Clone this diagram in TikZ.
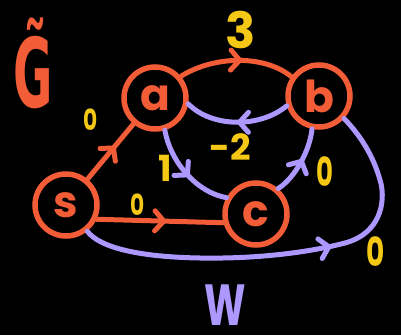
\documentclass[tikz,border=0pt]{standalone}
\usepackage{fontspec}
\usepackage{graphicx}
\setmainfont{Poppins}
\newfontfamily\gfont{DejaVu Sans}
\usetikzlibrary{arrows.meta,decorations.markings}
\definecolor{org}{HTML}{F25C36}
\definecolor{pur}{HTML}{AC98FF}
\definecolor{yel}{HTML}{F5C816}
\begin{document}
\begin{tikzpicture}[x=1pt,y=-1pt,
  vtx/.style={circle,draw=org,line width=5.5pt,minimum size=62pt,inner sep=0pt,text=org,font=\fontsize{44}{44}\selectfont\bfseries},
  oedge/.style={color=org,line width=5pt,line cap=round},
  pedge/.style={color=pur,line width=5pt,line cap=round},
  midarrow/.style={postaction={decorate},decoration={markings,mark=at position #1 with {\arrow{Straight Barb[length=9pt,width=20pt,round]}}}},
  wlabel/.style={text=yel,font=\fontsize{#1}{#1}\selectfont\bfseries,inner sep=0pt},
  biglabel/.style={inner sep=0pt,font=\fontsize{#1}{#1}\selectfont\bfseries},
]
\fill[black] (0,0) rectangle (401,335);
\useasboundingbox (0,0) rectangle (401,335);

\node[vtx] (s) at (66,205) {s};
\node[vtx] (a) at (155,98) {a};
\node[vtx] (b) at (319,96) {b};
\node[vtx] (c) at (256,214) {c};

\draw[oedge,midarrow=0.6] (s) -- (a);
\draw[oedge,midarrow=0.55] (a.40) .. controls (215,55) and (265,55) .. (b.145);
\draw[pedge,midarrow=0.5] (b.197) .. controls (260,128) and (212,128) .. (a.-10);
\draw[pedge,midarrow=0.55] (a.-73) .. controls (170,160) and (195,192) .. (c.151);
\draw[pedge,midarrow=0.55] (c.49) .. controls (295,178) and (310,150) .. (b.-102);
\draw[oedge,midarrow=0.55] (s.-25) -- (c.195);
\draw[pedge,midarrow=0.6] (s.-51) .. controls (100,248) and (140,257) .. (200,258)
  .. controls (260,259) and (310,252) .. (345,243)
  .. controls (385,232) and (385,195) .. (380,180)
  .. controls (373,155) and (360,135) .. (b.-42);

\node[wlabel=50] (l3) at (241,30) {3};
\node[wlabel=36] (lm2) at (230,147) {-2};
\node[wlabel=36] (l1) at (165,168) {1};
\node[wlabel=29] (l0a) at (91,120) {\scalebox{0.75}[1]{0}};
\node[wlabel=29] (l0b) at (138,205) {\scalebox{0.75}[1]{0}};
\node[wlabel=40] (l0c) at (325,172) {\scalebox{0.65}[1]{0}};
\node[wlabel=40] (l0d) at (376,252) {\scalebox{0.7}[1]{0}};

\node[biglabel=96,text=org,anchor=base] (gt) at (33,107) {\scalebox{0.5}[1]{\gfont\bfseries \~{G}}};
\node[biglabel=58,text=pur,anchor=base] (w) at (225,325) {\scalebox{0.68}[1]{W}};
\end{tikzpicture}
\end{document}
